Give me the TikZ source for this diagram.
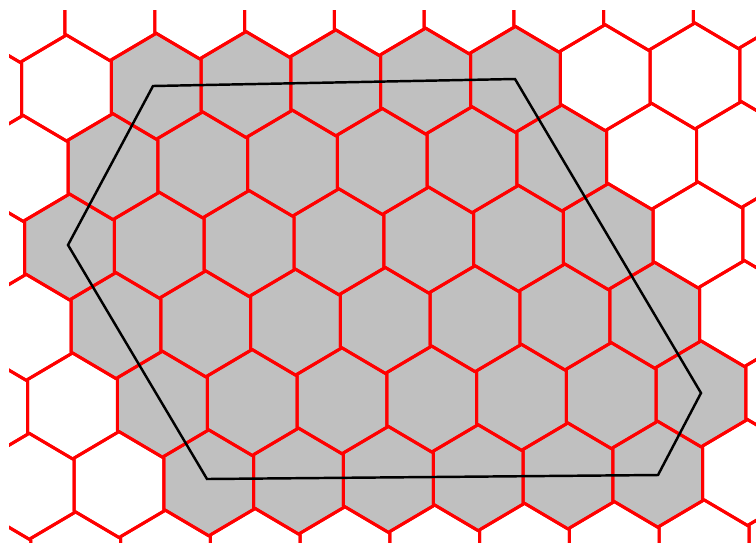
\documentclass[tikz,border=0pt]{standalone}
\usetikzlibrary{calc}
\definecolor{cellgray}{RGB}{192,192,192}

\tikzset{
    hexagon/.pic={
        \path[pic actions] (0,-53) -- (44.9,-26.5) -- (44.9,26.5) -- (0,53)
            -- (-44.9,26.5) -- (-44.9,-26.5) -- cycle;
    }
}

\begin{document}
\begin{tikzpicture}[
    x=0.02cm, y=-0.02cm,
    cell/.style={draw=red, line width=1.7pt, line join=round},
    shaded/.style={fill=cellgray},
    outline/.style={draw=black, line width=1.4pt, line join=miter}
]
\useasboundingbox (0,0) rectangle (756,542);
\clip (9,10) rectangle (756,542);

\begin{scope}[shift={(66.5,88)}, rotate=1.1]
    % grey cells, row / first / last column
    \foreach \r/\a/\b in {0/1/5, 1/1/6, 2/0/6, 3/1/7, 4/1/7, 5/2/7} {
        \foreach \c in {\a,...,\b} {
            \pgfmathsetmacro{\cx}{\c*89.8 - mod(abs(\r),2)*44.9}
            \pgfmathsetmacro{\cy}{\r*79.5}
            \pic[shaded] at (\cx,\cy) {hexagon};
        }
    }
    % red grid
    \foreach \r in {-1,...,6} {
        \foreach \c in {-1,...,9} {
            \pgfmathsetmacro{\cx}{\c*89.8 - mod(abs(\r),2)*44.9}
            \pgfmathsetmacro{\cy}{\r*79.5}
            \pic[cell] at (\cx,\cy) {hexagon};
        }
    }
\end{scope}

\coordinate (nw) at (153,86);
\coordinate (ne) at (515,79);
\coordinate (e) at (701,393);
\coordinate (se) at (658,475);
\coordinate (sw) at (207,479);
\coordinate (w) at (68,245);

\draw[outline] (nw) -- (ne) -- (e) -- (se) -- (sw) -- (w) -- cycle;
\end{tikzpicture}
\end{document}
